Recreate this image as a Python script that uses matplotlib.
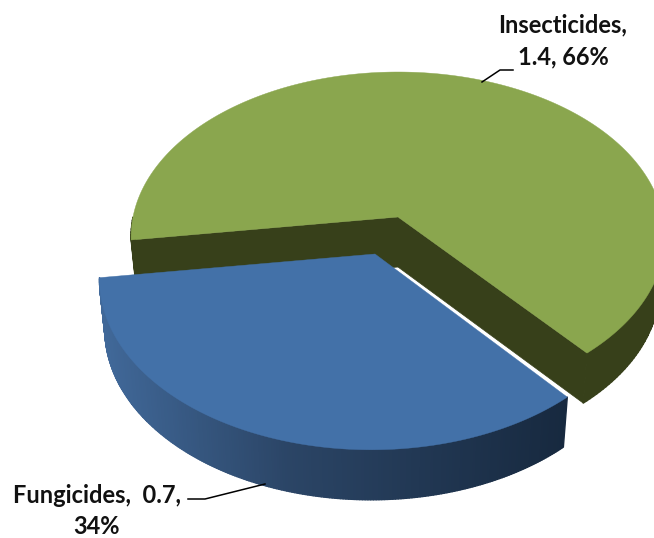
import numpy as np
import matplotlib
matplotlib.use("Agg")
import matplotlib.pyplot as plt
from matplotlib.collections import PolyCollection
from matplotlib.colors import LinearSegmentedColormap
from matplotlib.patches import Polygon

categories = ["Fungicides", "Insecticides"]
values = [0.7, 1.4]
shares = [34, 66]
labels = ["Fungicides,  0.7,\n34%", "Insecticides,\n1.4, 66%"]

# pie look, all in pixels of the 654x538 picture
start_angle = 188
apexes = [(375, 254), (398, 217)]
disc_x = [371, 398]
radius_x = [268.5, 265]
radius_y = [166.6, 162.4]
persp = [0.149, 0.12]
depth = 50
shrink = 0.98
top_colors = ["#4371a8", "#8aa64e"]
wall_green = "#37401a"
label_xy = [(97, 511), (563, 41)]
leaders = [[(188, 499), (205, 499), (265, 484)], [(513, 70), (500, 70), (482, 82)]]

wall_blue = LinearSegmentedColormap.from_list(
    "wall", [(0, "#41699a"), (0.4, "#2b4566"), (1, "#17293f")])


def project(angle, i, bottom=False):
    # flat disc to screen, the front of the disc comes out bigger
    a = np.radians(angle)
    u, v = np.cos(a), np.sin(a)
    s = 1 / (1 + persp[i] * v)
    x = radius_x[i] * u * s
    y = -radius_y[i] * v * s
    if bottom:
        return np.column_stack([disc_x[i] + x * shrink, apexes[i][1] + y + depth])
    return np.column_stack([disc_x[i] + x, apexes[i][1] + y])


fig = plt.figure(figsize=(6.54, 5.38), dpi=100)
ax = fig.add_axes([0, 0, 1, 1])
ax.set_xlim(0, 654)
ax.set_ylim(538, 0)
ax.axis("off")

spans = np.array(shares) / sum(shares) * 360
starts = start_angle + np.concatenate([[0], np.cumsum(spans)[:-1]])

# green slice first, the blue one sits in front of it
for i in [1, 0]:
    angles = np.linspace(starts[i], starts[i] + spans[i], 240)
    top = project(angles, i)
    low = project(angles, i, bottom=True)
    cx, cy = apexes[i]
    apex_low = (cx, cy + depth)
    # only the rim that faces the viewer
    front = np.sin(np.radians(angles[:-1])) < 0
    quads = [[top[j], top[j + 1], low[j + 1], low[j]] for j in np.flatnonzero(front)]
    if i == 1:
        # inner walls of the gap
        ax.add_patch(Polygon([(cx, cy), top[0], low[0], apex_low], fc=wall_green, ec=wall_green, lw=0.5))
        ax.add_patch(Polygon([(cx, cy), top[-1], low[-1], apex_low], fc=wall_green, ec=wall_green, lw=0.5))
        colors = [wall_green] * len(quads)
    else:
        pos = (top[:-1, 0][front] - top[:, 0].min()) / np.ptp(top[:, 0])
        colors = [wall_blue(p) for p in pos]
    ax.add_collection(PolyCollection(quads, facecolors=colors, edgecolors=colors, linewidths=1.0))
    ax.add_patch(Polygon(np.vstack([[(cx, cy)], top]), fc=top_colors[i], ec=top_colors[i], lw=0.3))

for lab, xy, pts in zip(labels, label_xy, leaders):
    ax.text(xy[0], xy[1], lab, ha="center", va="center", fontsize=17, fontweight="bold",
            family="Lato", color="#111111", linespacing=1.45)
    ax.plot(*zip(*pts), color="black", lw=1.1)

fig.savefig("out.png", dpi=100)
